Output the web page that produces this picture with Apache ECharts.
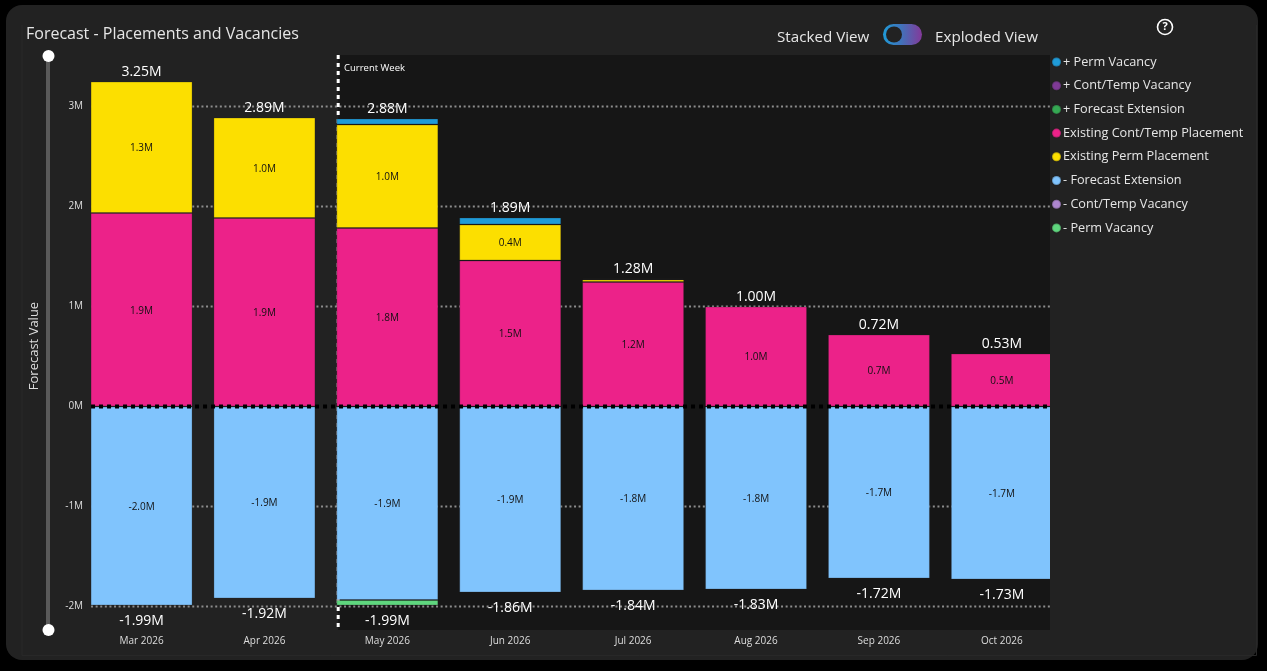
<!DOCTYPE html>
<html>
<head>
<meta charset="utf-8">
<title>Forecast - Placements and Vacancies</title>
<script src="https://cdn.jsdelivr.net/npm/echarts@6/dist/echarts.min.js"></script>
<style>
  html, body { margin: 0; padding: 0; background: #000; }
  #chart { width: 1267px; height: 671px; }
</style>
</head>
<body>
<div id="chart"></div>
<script>
// Forecast values, in millions.
const months = ['Mar 2026', 'Apr 2026', 'May 2026', 'Jun 2026', 'Jul 2026', 'Aug 2026', 'Sep 2026', 'Oct 2026'];
const existingContTemp = [1.935, 1.885, 1.785, 1.46, 1.245, 1.0, 0.72, 0.53];
const existingPerm = [1.315, 1.005, 1.035, 0.36, 0.025, 0, 0, 0];
const plusForecastExtension = [0, 0, 0, 0, 0.01, 0, 0, 0];
const plusContTemp = [0, 0, 0, 0, 0, 0, 0, 0];
const plusPerm = [0, 0, 0.06, 0.07, 0, 0, 0, 0];
const minusForecastExtension = [-1.99, -1.92, -1.935, -1.86, -1.84, -1.83, -1.72, -1.73];
const minusContTemp = [0, 0, 0, 0, 0, 0, 0, 0];
const minusPerm = [0, 0, -0.055, 0, 0, 0, 0, 0];
const positiveTotals = [3.25, 2.89, 2.88, 1.89, 1.28, 1.0, 0.72, 0.53];
const negativeTotals = [-1.99, -1.92, -1.99, -1.86, -1.84, -1.83, -1.72, -1.73];
const valueTicks = [-2, -1, 0, 1, 2, 3];

const FONT = '"Open Sans", "Noto Sans", sans-serif';
const PANEL = '#222222';

// Value-axis range of the plot, in millions.
const valueMin = -2.235;
const valueMax = 3.515;
// Position along May where the current week falls, in month units from the first month.
const currentWeek = 2.1;
const plotEnd = 7.892;
const ruleStart = 0.089;

function stackSeries(name, values, color) {
  return {
    name, type: 'bar', stack: 'forecast', z: 2,
    barWidth: 102,
    data: values.map(v => (v === 0 ? '-' : v)),
    itemStyle: { color, borderColor: 'rgba(30,30,30,0.25)', borderWidth: 1 },
    label: {
      show: true, position: 'inside', offset: [0, 1], color: '#111', fontSize: 10, fontFamily: FONT,
      formatter: p => (Math.abs(p.value) >= 0.2 ? p.value.toFixed(1) + 'M' : '')
    },
    emphasis: { disabled: true }
  };
}

function totalSeries(name, values, position, distance) {
  return {
    name, type: 'line', z: 3, data: values, symbol: 'circle', symbolSize: 1, silent: true,
    showAllSymbol: true,
    lineStyle: { width: 0, color: 'transparent' },
    itemStyle: { color: 'transparent' },
    label: {
      show: true, position, distance, color: '#fff', fontSize: 14, fontFamily: FONT,
      formatter: p => p.value.toFixed(2) + 'M'
    },
    emphasis: { disabled: true }
  };
}

// A straight rule drawn through the hidden month-unit axis and the value axis.
function ruleSeries(name, points, z, lineStyle) {
  return {
    name, type: 'line', xAxisIndex: 1, yAxisIndex: 0, z, silent: true,
    data: points, symbol: 'none', lineStyle, emphasis: { disabled: true }
  };
}

const stacked = [
  stackSeries('+ Perm Vacancy', plusPerm, '#1f9bd8'),
  stackSeries('+ Cont/Temp Vacancy', plusContTemp, '#7f3a96'),
  stackSeries('+ Forecast Extension', plusForecastExtension, '#35a853'),
  stackSeries('Existing Cont/Temp Placement', existingContTemp, '#ec2289'),
  stackSeries('Existing Perm Placement', existingPerm, '#fcdf00'),
  stackSeries('- Forecast Extension', minusForecastExtension, '#80c4fd'),
  stackSeries('- Cont/Temp Vacancy', minusContTemp, '#ad86ce'),
  stackSeries('- Perm Vacancy', minusPerm, '#5fd67e')
];
// The positive stack builds upward from placements, then extensions and vacancies.
const drawOrder = [3, 4, 2, 1, 0, 5, 6, 7].map(i => stacked[i]);

const shade = {
  name: 'future shade', type: 'line', xAxisIndex: 1, yAxisIndex: 0, z: 0, silent: true,
  data: [], symbol: 'none',
  markArea: {
    silent: true, z: 0,
    itemStyle: { color: '#161616' },
    data: [[{ xAxis: currentWeek, yAxis: valueMax }, { xAxis: plotEnd, yAxis: valueMin }]]
  }
};

const gridRules = valueTicks.filter(v => v !== 0).map(v =>
  ruleSeries('rule ' + v, [[ruleStart, v], [plotEnd, v]], 1, { color: '#8c8c8c', width: 1.8, type: [2, 2.6] })
);
const weekRule = ruleSeries('current week', [[currentWeek, valueMax], [currentWeek, valueMin]], 1,
  { color: '#fff', width: 3, type: [4, 4] });
const zeroRule = ruleSeries('zero', [[ruleStart, 0], [plotEnd, 0]], 4,
  { color: '#000', width: 4, type: [4, 4] });

const chart = echarts.init(document.getElementById('chart'), null, { renderer: 'canvas' });
chart.setOption({
  animation: false,
  backgroundColor: '#000',
  textStyle: { fontFamily: FONT },
  title: {
    text: 'Forecast - Placements and Vacancies', left: 26, top: 26, padding: 0,
    textStyle: { color: '#e6e6e6', fontSize: 16, fontWeight: 'normal', fontFamily: FONT }
  },
  legend: {
    orient: 'vertical', left: 1051, top: 55, padding: 0, itemGap: 9.7,
    itemWidth: 9, itemHeight: 9, icon: 'circle',
    data: stacked.map(s => s.name),
    selectedMode: false,
    textStyle: { color: '#e6e6e6', fontSize: 12.7, lineHeight: 14, fontFamily: FONT, padding: [0, 0, 0, -3] }
  },
  grid: { left: 80.1, top: 55, width: 983.2, height: 575, containLabel: false },
  xAxis: [
    {
      type: 'category', data: months, position: 'bottom',
      axisLine: { show: false }, axisTick: { show: false },
      axisLabel: { color: '#dddddd', fontSize: 10, margin: 6, fontFamily: FONT }
    },
    { type: 'value', min: 0, max: 8, show: false }
  ],
  yAxis: {
    type: 'value', min: valueMin, max: valueMax,
    name: 'Forecast Value', nameLocation: 'middle', nameGap: 39, nameRotate: 90,
    nameTextStyle: { color: '#dddddd', fontSize: 13, fontFamily: FONT, padding: [0, 7, 0, 0] },
    axisLine: { show: false },
    axisTick: { show: false },
    splitLine: { show: false },
    axisLabel: {
      color: '#dddddd', fontSize: 10, margin: -3, fontFamily: FONT, padding: [2, 0, 0, 0],
      customValues: valueTicks,
      formatter: v => v + 'M'
    }
  },
  graphic: [
    { type: 'rect', z: -10, shape: { x: 6, y: 5, width: 1252, height: 655, r: 16 }, style: { fill: PANEL } },
    { type: 'polyline', z: -9, shape: { points: [[22, 25], [22, 655.5], [1256.5, 655.5], [1256.5, 25]] }, style: { stroke: '#282828', lineWidth: 1, fill: 'none' } },
    // Panel strip that closes the plot on the right edge.
    { type: 'rect', z: 3, shape: { x: 1050, y: 55, width: 15, height: 580 }, style: { fill: PANEL } },
    // Range slider beside the value axis.
    { type: 'rect', z: 1, shape: { x: 46, y: 56, width: 4, height: 574 }, style: { fill: '#5a5a5a' } },
    { type: 'circle', z: 1, shape: { cx: 48.5, cy: 56, r: 6 }, style: { fill: '#fff' } },
    { type: 'circle', z: 1, shape: { cx: 48.5, cy: 630, r: 6 }, style: { fill: '#fff' } },
    { type: 'text', z: 5, x: 344, y: 63, style: { text: 'Current Week', fill: '#fff', font: '9.5px ' + FONT } },
    // View switch.
    { type: 'text', z: 5, x: 777, y: 30, style: { text: 'Stacked View', fill: '#e6e6e6', font: '15.2px ' + FONT } },
    { type: 'text', z: 5, x: 935, y: 30, style: { text: 'Exploded View', fill: '#e6e6e6', font: '15.2px ' + FONT } },
    {
      type: 'rect', z: 5, shape: { x: 883, y: 24, width: 39, height: 21, r: 10.5 },
      style: { fill: new echarts.graphic.LinearGradient(0, 0, 1, 0, [
        { offset: 0, color: '#1f9bd8' }, { offset: 0.45, color: '#3f74bb' }, { offset: 1, color: '#84399a' }
      ]) }
    },
    { type: 'circle', z: 6, shape: { cx: 894, cy: 34.5, r: 8 }, style: { fill: PANEL } },
    // Help button.
    { type: 'circle', z: 5, shape: { cx: 1165, cy: 27, r: 7.5 }, style: { fill: 'none', stroke: '#fff', lineWidth: 1.6 } },
    { type: 'text', z: 5, x: 1165, y: 27, style: { text: '?', fill: '#fff', font: 'bold 11px ' + FONT, align: 'center', verticalAlign: 'middle' } }
  ],
  series: [shade].concat(gridRules, [weekRule], drawOrder, [
    totalSeries('positive total', positiveTotals, 'top', 2),
    totalSeries('negative total', negativeTotals, 'bottom', 8),
    zeroRule
  ])
});
</script>
</body>
</html>
